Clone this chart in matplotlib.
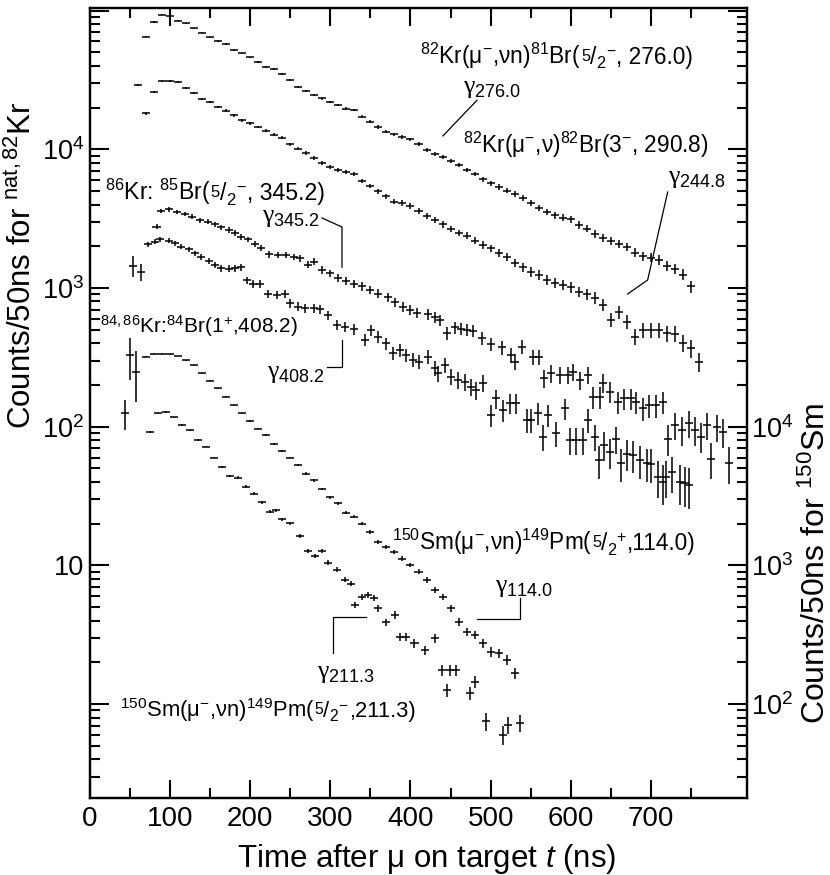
import numpy as np
import matplotlib
matplotlib.use("Agg")
import matplotlib.pyplot as plt
from matplotlib.ticker import FixedLocator, FixedFormatter, LogLocator, NullFormatter
from matplotlib.transforms import offset_copy

plt.rcParams['font.family'] = ['Liberation Sans', 'DejaVu Sans']
plt.rcParams['mathtext.fontset'] = 'custom'
plt.rcParams['mathtext.rm'] = 'Liberation Sans'
plt.rcParams['mathtext.it'] = 'Liberation Sans:italic'
plt.rcParams['mathtext.bf'] = 'Liberation Sans:bold'

# --- dados (contagens / 50 ns) ---
# 82Kr -> 81Br(5/2-, 276.0), bins de 10 ns a partir de 70 ns
br81_t0 = 70
br81 = [64900, 82800, 93300, 91400, 84500, 81000, 74500, 69300, 64100, 60700,
        57400, 52000, 49200, 46000, 42800, 39400, 37800, 34900, 31600, 28000,
        26400, 24600, 23300, 21900, 20900, 19600, 19200, 17200, 15800, 14500,
        13400, 12800, 12300, 11800, 10900, 9900, 9300, 8800, 8200, 7700,
        7100, 6640, 6100, 5690, 5350, 5050, 4750, 4450, 4080, 3800,
        3550, 3350, 3220, 3130, 2850, 2680, 2450, 2300, 2200, 2080,
        1980, 1800, 1700, 1660, 1600, 1450, 1370, 1250, 1030]

# 82Kr -> 82Br(3-, 290.8), bins de 10 ns a partir de 60 ns
br82_t0 = 60
br82 = [29100, 18200, 25800, 31000, 31000, 30500, 27500, 25500, 23200, 22000,
        20300, 19000, 17600, 16200, 15400, 14500, 13600, 12700, 12100, 10900,
        10100, 9400, 8700, 8000, 7500, 7150, 6900, 6600, 5900, 5450,
        5000, 4600, 4200, 4100, 3900, 3600, 3300, 3080, 2880, 2680,
        2500, 2380, 2200, 2050, 1930, 1800, 1680, 1520, 1420, 1310,
        1250, 1140, 1090, 1050, 1010, 940, 900, 850, 760, 590,
        675, 570, 446, 500, 498, 495, 472, 470, 400, 368, 294]

# 86Kr: 85Br(5/2-, 345.2)
br85_t = [83, 89, 98, 108, 118, 127, 137, 147, 156, 164, 173, 181, 189, 197, 206,
          214, 224, 235, 245, 254, 262, 272, 279, 289, 299, 310, 320, 329, 339, 349,
          360, 372, 381, 391, 400, 408, 422, 430, 437, 445, 455, 463, 470, 478, 489,
          501, 514, 526, 530, 539, 553, 561, 567, 575, 586, 596, 603, 611, 622, 628,
          636, 640, 649, 659, 667, 675, 682, 690, 698, 707, 715, 722, 730, 739, 747,
          755, 763, 770, 775, 782, 790, 798]
br85 = [2770, 3610, 3690, 3550, 3420, 3270, 3090, 3010, 2890, 2740, 2620, 2500, 2340, 2240, 2070,
        1960, 1750, 1730, 1730, 1680, 1640, 1470, 1550, 1350, 1280, 1190, 1130, 1070, 1030, 970,
        910, 857, 790, 733, 700, 663, 650, 620, 588, 471, 521, 510, 498, 490, 434,
        394, 374, 329, 294, 378, 320, 320, 223, 243, 236, 236, 250, 217, 236, 164,
        164, 206, 179, 151, 160, 160, 151, 136, 143, 143, 151, 82, 103, 95, 106,
        95, 85, 103, 59, 100, 92, 55]

# 84,86Kr: 84Br(1+, 408.2)
br84_t = [73, 81, 87, 98, 106, 114, 123, 131, 139, 148, 156, 164, 173, 181, 189,
          196, 204, 212, 222, 233, 243, 250, 260, 268, 279, 287, 297, 308, 318, 329,
          343, 351, 359, 370, 378, 387, 395, 403, 411, 422, 430, 434, 443, 451, 459,
          468, 476, 482, 491, 501, 507, 516, 524, 532, 545, 551, 559, 566, 572, 582,
          593, 599, 607, 615, 622, 630, 635, 641, 649, 657, 663, 670, 678, 686, 695,
          700, 709, 715, 719, 727, 736, 742, 748]
br84 = [2070, 2160, 2240, 2190, 2100, 1990, 1900, 1780, 1680, 1570, 1470, 1390, 1380, 1390, 1410,
        1140, 1070, 1070, 906, 890, 906, 776, 733, 714, 714, 705, 638, 541, 526, 504,
        422, 498, 446, 399, 338, 357, 329, 303, 294, 320, 264, 243, 279, 229, 217,
        211, 194, 184, 206, 121, 160, 132, 148, 148, 112, 112, 125, 85, 121, 90,
        136, 80, 80, 80, 112, 85, 57.5, 74, 66, 82, 54.5, 64, 62.5, 57.5, 54.5,
        54, 43.7, 40, 43.7, 47, 40, 39, 38]

# pontos iniciais do Kr com erro grande
kr_prompt_t = [54, 64]
kr_prompt = [1450, 1310]
kr_prompt_err = [240, 190]

# 150Sm -> 149Pm(5/2+, 114.0), eixo da direita, bins de 10 ns a partir de 70 ns
pm114_t0 = 70
pm114 = [32000, 33400, 33400, 33400, 32400, 30200, 27800, 24300, 21500, 19000,
         16500, 14300, 12500, 11000, 9700, 8700, 7500, 6700, 6000, 5300,
         4600, 4100, 3550, 3100, 2800, 2400, 2250, 2000, 1750, 1480,
         1350, 1250, 1120, 1010, 900, 785, 665, 595, 490, 393,
         333, 315, 274, 239, 232, 208, 167]

# 150Sm -> 149Pm(5/2-, 211.3), eixo da direita
pm211_t = [75, 85, 95, 105, 115, 125, 135, 145, 155, 165, 175, 185, 195, 205, 215,
           225, 232, 240, 250, 262, 272, 281, 289, 297, 308, 318, 326, 331, 339, 347,
           354, 360, 370, 381, 387, 395, 405, 418, 430, 439, 445, 449, 457, 474, 480,
           494, 516, 522, 537]
pm211 = [9200, 12500, 12800, 11700, 10300, 9400, 8000, 7200, 6000, 5100, 4400, 4300, 3700, 3300, 2850,
         2440, 2500, 2150, 2010, 1630, 1280, 1170, 1270, 1050, 930, 790, 740, 520, 590, 610,
         580, 490, 390, 440, 306, 306, 274, 245, 298, 176, 126, 176, 176, 120, 145,
         75, 60, 71, 73]

sm_prompt_t = [44, 50, 58]
sm_prompt = [12500, 32900, 25000]
sm_prompt_err = [3000, 11000, 10000]

# escala do erro estatístico de cada série (erro = sqrt(valor * escala))
err_scale = {"br81": 10, "br82": 7.7, "br85": 5, "br84": 4, "pm114": 1.5, "pm211": 1.5}

bin_half = 5  # meia largura do bin (ns)

fig = plt.figure(figsize=(8.3, 8.75), dpi=100)
ax = fig.add_axes([90 / 830, 1 - 798 / 875, 657 / 830, 790 / 875])
ax2 = ax.twinx()

ylim_kr = (0.2105, 1.045e5)
ax.set_yscale('log')
ax2.set_yscale('log')
ax.set_xlim(0, 820)
ax.set_ylim(*ylim_kr)
ax2.set_ylim(ylim_kr[0] * 100, ylim_kr[1] * 100)


def desenha(eixo, t, v, escala):
    v = np.asarray(v, dtype=float)
    err = np.sqrt(v * escala)
    eixo.errorbar(t, v, xerr=bin_half, yerr=err, fmt='none', ecolor='k',
                  elinewidth=1.1, capsize=0)


desenha(ax, br81_t0 + 10 * np.arange(len(br81)), br81, err_scale["br81"])
desenha(ax, br82_t0 + 10 * np.arange(len(br82)), br82, err_scale["br82"])
desenha(ax, br85_t, br85, err_scale["br85"])
desenha(ax, br84_t, br84, err_scale["br84"])
ax.errorbar(kr_prompt_t, kr_prompt, xerr=bin_half, yerr=kr_prompt_err, fmt='none',
            ecolor='k', elinewidth=1.1, capsize=0)
desenha(ax2, pm114_t0 + 10 * np.arange(len(pm114)), pm114, err_scale["pm114"])
desenha(ax2, pm211_t, pm211, err_scale["pm211"])
ax2.errorbar(sm_prompt_t, sm_prompt, xerr=bin_half, yerr=sm_prompt_err, fmt='none',
             ecolor='k', elinewidth=1.1, capsize=0)

# eixos e ticks
for s in ax.spines.values():
    s.set_linewidth(1.6)
ax.xaxis.set_major_locator(FixedLocator(np.arange(0, 701, 100)))
ax.xaxis.set_minor_locator(FixedLocator(np.arange(50, 751, 100)))
ax.tick_params(axis='x', which='both', direction='in', top=True, bottom=True,
               labelsize=20, pad=6, width=1.5)
ax.tick_params(axis='x', which='major', length=13)
ax.tick_params(axis='x', which='minor', length=7)

left_ticks = [1, 10, 100, 1e3, 1e4, 1e5]
left_labels = ['', '10', '$10^{2}$', '$10^{3}$', '$10^{4}$', '']
ax.yaxis.set_major_locator(FixedLocator(left_ticks))
ax.yaxis.set_major_formatter(FixedFormatter(left_labels))
ax.yaxis.set_minor_locator(LogLocator(base=10, subs=np.arange(2, 10), numticks=20))
ax.yaxis.set_minor_formatter(NullFormatter())
ax.tick_params(axis='y', which='both', direction='in', left=True, right=False,
               labelsize=19.5, pad=4, width=1.5)
ax.tick_params(axis='y', which='major', length=14)
ax.tick_params(axis='y', which='minor', length=7)

right_ticks = [1e2, 1e3, 1e4, 1e5, 1e6, 1e7]
right_labels = ['$10^{2}$', '$10^{3}$', '$10^{4}$', '', '', '']
ax2.yaxis.set_major_locator(FixedLocator(right_ticks))
ax2.yaxis.set_major_formatter(FixedFormatter(right_labels))
ax2.yaxis.set_minor_locator(LogLocator(base=10, subs=np.arange(2, 10), numticks=20))
ax2.yaxis.set_minor_formatter(NullFormatter())
ax2.tick_params(axis='y', which='both', direction='in', right=True, left=False,
                labelsize=19.5, pad=3, width=1.5)
ax2.tick_params(axis='y', which='major', length=14)
ax2.tick_params(axis='y', which='minor', length=7)
for s in ax2.spines.values():
    s.set_linewidth(1.6)

ax.set_xlabel('Time after μ on target $\\mathit{t}$ (ns)', fontsize=22.5)
ax.xaxis.set_label_coords(0.513, -0.056)
fig.text(22 / 830, 1 - 265 / 875, 'Counts/50ns for $^{\\mathregular{nat,82}}$Kr', rotation=90,
         ha='center', va='center', fontsize=22.5)
fig.text(816 / 830, 1 - 563 / 875, 'Counts/50ns for $^{150}$Sm', rotation=90,
         ha='center', va='center', fontsize=23)

# rótulos com a fração 5/2: texto montado em partes
renderer = fig.canvas.get_renderer()


def rotulo(eixo, x, y, partes):
    dx = 0.0
    for s, fs, dy in partes:
        tr = offset_copy(eixo.transData, fig=fig, x=dx, y=dy, units='dots')
        txt = eixo.text(x, y, s, fontsize=fs, transform=tr, va='baseline', ha='left')
        dx += txt.get_window_extent(renderer).width


def fracao(sinal, fs):
    f = 0.72 * fs
    return [('5', f, 0.2 * fs), ('/', fs, 0), ('2', f, -0.27 * fs),
            ('$^{' + sinal + '}$', fs, 0)]


gam = dict(family=['Liberation Serif', 'DejaVu Serif'], fontsize=18.5, va='baseline', ha='left')

fa = 16.4
rotulo(ax, 412, 41200, [('$^{82}$Kr(μ$^{-}$,νn)$^{81}$Br(', fa, 0)] + fracao('-', fa)
       + [(', 276.0)', fa, 0)])
ax.text(465, 25400, 'γ$_{276.0}$', **gam)
ax.plot([483, 440.5], [22600, 12500], color='k', lw=0.9)

ax.text(465, 9400, '$^{82}$Kr(μ$^{-}$,ν)$^{82}$Br(3$^{-}$, 290.8)', fontsize=16.3, va='baseline')
ax.text(721, 5710, 'γ$_{244.8}$', **gam)
ax.plot([721, 696, 671], [4920, 1143, 906], color='k', lw=0.9)

fc = 16.6
rotulo(ax, 18.7, 4300, [('$^{86}$Kr: $^{85}$Br(', fc, 0)] + fracao('-', fc)
       + [(', 345.2)', fc, 0)])
ax.text(214.5, 2990, 'γ$_{345.2}$', **gam)
ax.plot([289.5, 314.5, 314.5], [3200, 2755, 1415], color='k', lw=0.9)

ax.text(12.5, 475, '$^{84,86}$Kr:$^{84}$Br(1$^{+}$,408.2)', fontsize=15, va='baseline')
ax.text(221, 224, 'γ$_{408.2}$', **gam)
ax.plot([296, 314.5, 314.5], [269, 269, 421], color='k', lw=0.9)

fe = 16.3
rotulo(ax2, 376.7, 1290, [('$^{150}$Sm(μ$^{-}$,νn)$^{149}$Pm(', fe, 0)] + fracao('+', fe)
       + [(',114.0)', fe, 0)])
ax2.text(505, 643, 'γ$_{114.0}$', **gam)
ax2.plot([536.6, 536.6, 482.5], [582, 408, 408], color='k', lw=0.9)

ax2.text(283, 154, 'γ$_{211.3}$', **gam)
ax2.plot([303, 303, 345], [233, 427, 427], color='k', lw=0.9)
ff = 15.8
rotulo(ax2, 37.4, 80.7, [('$^{150}$Sm(μ$^{-}$,νn)$^{149}$Pm(', ff, 0)] + fracao('-', ff)
       + [(',211.3)', ff, 0)])

fig.savefig('out.png', dpi=100)
